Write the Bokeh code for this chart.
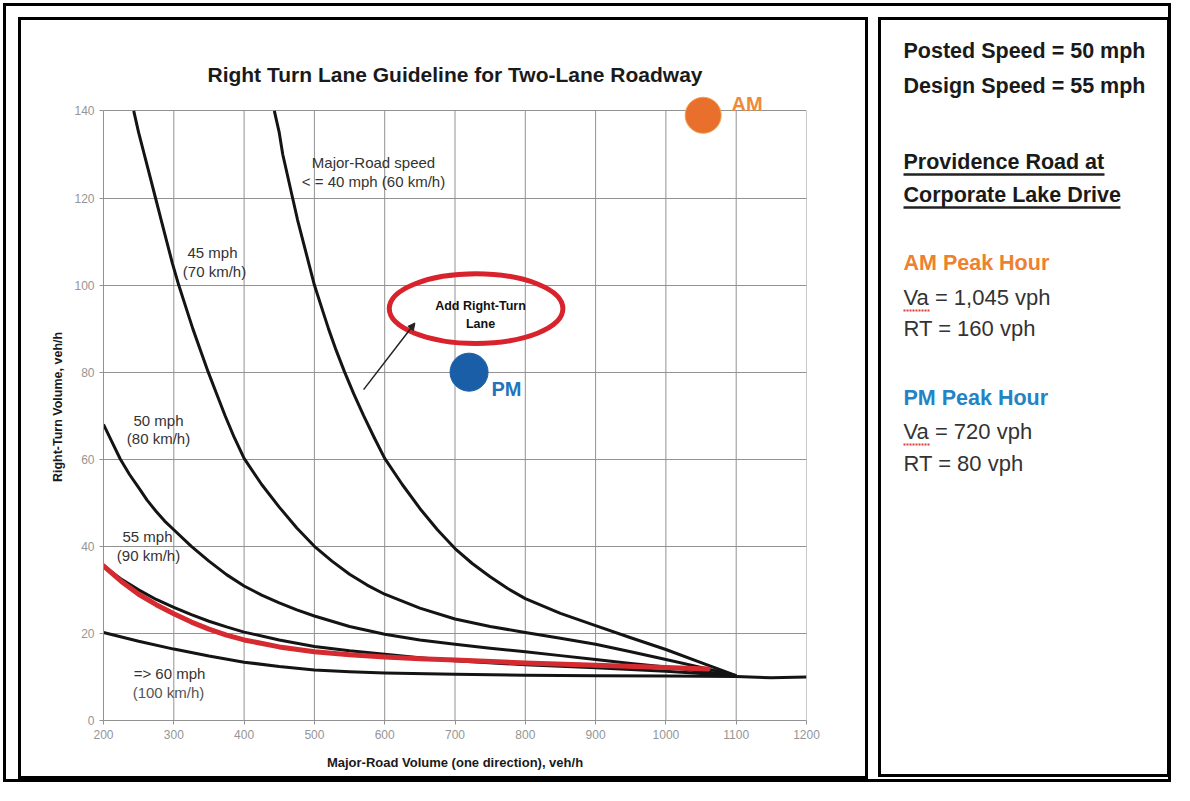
from bokeh.plotting import figure
from bokeh.layouts import row
from bokeh.models import Range1d, Label, Arrow, NormalHead, FixedTicker
from bokeh.embed import file_html
from bokeh.resources import INLINE

# ---------------- data ----------------
x_ticks = [200, 300, 400, 500, 600, 700, 800, 900, 1000, 1100, 1200]
y_ticks = [0, 20, 40, 60, 80, 100, 120, 140]

mph40_x = [443, 450, 455, 462, 469, 476, 484, 492, 500, 510, 520, 531, 543, 556, 570, 585, 600, 625, 650,
           675, 700, 725, 750, 775, 800, 850, 900, 950, 1000, 1050, 1100]
mph40_y = [140, 135, 130, 125, 120, 115, 110, 105, 100, 95, 90, 85, 80, 75, 70, 65, 60.2, 54.2, 48.7,
           43.8, 39.5, 36, 33, 30.3, 28, 24.6, 21.8, 19, 16.3, 13.3, 10.3]

mph45_x = [243, 250, 258, 266, 274, 282, 290, 298, 307, 317, 327, 338, 349, 361, 373, 386, 400, 425, 450,
           475, 500, 525, 550, 575, 600, 650, 700, 750, 800, 850, 900, 950, 1000, 1050, 1100]
mph45_y = [140, 135, 130, 125, 120, 115, 110, 105, 100, 95, 90, 85, 80, 75, 70, 65, 60.2, 54.2, 49,
           44.2, 40, 36.6, 33.6, 31.1, 29, 25.8, 23.3, 21.6, 20.2, 18.9, 17.5, 15.8, 14, 12.2, 10.3]

mph50_x = [200, 212, 224, 237, 250, 262, 275, 287, 300, 325, 350, 375, 400, 425, 450, 475, 500, 550, 600,
           650, 700, 750, 800, 850, 900, 950, 1000, 1050, 1100]
mph50_y = [68, 64, 60, 56.5, 53.5, 50.6, 48, 45.8, 43.8, 40, 36.6, 33.5, 30.9, 28.8, 27, 25.4, 24, 21.6, 19.8,
           18.5, 17.5, 16.6, 15.8, 14.9, 14, 13.1, 12.3, 11.3, 10.3]

mph55_x = [200, 225, 250, 275, 300, 325, 350, 375, 400, 450, 500, 550, 600, 650, 700, 800, 900, 1000, 1050, 1100]
mph55_y = [35.5, 32.5, 30, 27.8, 26, 24.3, 22.8, 21.5, 20.3, 18.5, 17, 16, 15.2, 14.4, 13.7, 12.8, 12.1, 11.3, 10.8, 10.3]

mph60_x = [200, 250, 300, 350, 400, 450, 500, 550, 600, 700, 800, 900, 1000, 1100, 1150, 1200]
mph60_y = [20.2, 18.2, 16.4, 14.8, 13.4, 12.4, 11.6, 11.2, 10.9, 10.6, 10.4, 10.3, 10.2, 10.1, 9.8, 10]

site_x = [200, 225, 250, 275, 300, 325, 350, 375, 400, 450, 500, 550, 600, 650, 700, 800, 900, 1000, 1060]
site_y = [35.5, 32, 29, 26.6, 24.5, 22.6, 21, 19.6, 18.5, 16.9, 15.8, 15.1, 14.6, 14.2, 13.9, 13.2, 12.7, 12.2, 11.8]

pm_x, pm_y = [720], [80]
am_x, am_y_shown = [1053], [139]

callout_x, callout_y, callout_w, callout_h = 730, 94.6, 247, 16
arrow_from = (570, 76)
arrow_to = (643, 91.3)

panel_bold = ["Posted Speed = 50 mph", "Design Speed = 55 mph", "Providence Road at", "Corporate Lake Drive"]
panel_am = ["AM Peak Hour", "Va = 1,045 vph", "RT = 160 vph"]
panel_pm = ["PM Peak Hour", "Va = 720 vph", "RT = 80 vph"]

GRID = "#929292"
FONT = "Liberation Sans"

# ---------------- chart figure (image coords: x 21..865, y 20..776) ----------------
A_L, A_T, A_W, A_H = 21, 20, 844, 756
FR_L, FR_R, FR_T, FR_B = 103, 806, 93, 720
p = figure(width=A_W, height=A_H, output_backend="svg", toolbar_location=None,
           x_range=Range1d(200, 1200), y_range=Range1d(0, 144),
           min_border_left=FR_L - A_L, min_border_right=A_L + A_W - FR_R,
           min_border_top=FR_T - A_T, min_border_bottom=A_T + A_H - FR_B)
if hasattr(p, "frame_align"):
    p.frame_align = False
p.outline_line_color = None
p.background_fill_color = "white"
p.border_fill_color = "white"
p.extra_x_ranges = {"px": Range1d(FR_L, FR_R)}
p.extra_y_ranges = {"py": Range1d(FR_B, FR_T)}

p.title.text = "Right Turn Lane Guideline for Two-Lane Roadway"
p.title.align = "center"
p.title.text_font = FONT
p.title.text_font_size = "21px"
p.title.text_font_style = "bold"
p.title.text_color = "#1a1a1a"
p.title.standoff = 16

for ax in (p.xaxis, p.yaxis):
    ax.axis_line_color = GRID
    ax.major_tick_line_color = GRID
    ax.minor_tick_line_color = None
    ax.major_tick_in = 0
    ax.major_tick_out = 4
    ax.major_label_text_font = FONT
    ax.major_label_text_font_size = "12px"
    ax.major_label_text_color = "#959595"
    ax.axis_label_text_font = FONT
    ax.axis_label_text_font_style = "bold"
    ax.axis_label_text_color = "#1a1a1a"
p.xaxis.axis_label_text_font_size = "13px"
p.yaxis.axis_label_text_font_size = "12.5px"

p.xaxis.ticker = FixedTicker(ticks=x_ticks)
p.yaxis.ticker = FixedTicker(ticks=y_ticks)
p.xaxis.bounds = (x_ticks[0], x_ticks[-1])
p.yaxis.bounds = (y_ticks[0], y_ticks[-1])
p.xaxis.axis_label = "Major-Road Volume (one direction), veh/h"
p.yaxis.axis_label = "Right-Turn Volume, veh/h"
p.xaxis.axis_label_standoff = 13
p.yaxis.axis_label_standoff = 6

p.xgrid.visible = False
p.ygrid.ticker = FixedTicker(ticks=y_ticks)
p.ygrid.grid_line_color = GRID
p.ygrid.grid_line_width = 1
p.segment(x0=x_ticks, y0=[y_ticks[0]] * len(x_ticks), x1=x_ticks, y1=[y_ticks[-1]] * len(x_ticks),
          line_color=GRID, line_width=1)

for xs, ys in [(mph40_x, mph40_y), (mph45_x, mph45_y), (mph50_x, mph50_y), (mph55_x, mph55_y), (mph60_x, mph60_y)]:
    p.line(xs, ys, line_color="#141414", line_width=3, line_join="round")
p.line(site_x, site_y, line_color="#d42a30", line_width=5, line_join="round", line_cap="round")

p.ellipse(x=[callout_x], y=[callout_y], width=[callout_w], height=[callout_h],
          fill_color=None, line_color="#d8232c", line_width=5)
p.add_layout(Arrow(end=NormalHead(size=7, fill_color="#222222", line_color="#222222"),
                   x_start=arrow_from[0], y_start=arrow_from[1], x_end=arrow_to[0], y_end=arrow_to[1],
                   line_color="#222222", line_width=1.5))

p.scatter(pm_x, pm_y, size=38, fill_color="#1b5ea8", line_color="#1b5ea8")
p.scatter(am_x, am_y_shown, size=36, fill_color="#e8702c", line_color="#f0a050")


def lab(fig, x, y, text, size, color="#222222", bold=False, align="center", ranges=True):
    kw = dict(x_range_name="px", y_range_name="py") if ranges else {}
    fig.add_layout(Label(x=x, y=y, text=text, text_font=FONT, text_font_size=f"{size}px",
                         text_font_style="bold" if bold else "normal",
                         text_color=color, text_align=align, text_baseline="middle", **kw))


lab(p, 373, 162, "Major-Road speed", 15, "#333333")
lab(p, 373, 181, "< = 40 mph (60 km/h)", 15, "#333333")
lab(p, 212, 252, "45 mph", 15, "#333333")
lab(p, 214, 271, "(70 km/h)", 15, "#333333")
lab(p, 158, 420, "50 mph", 15, "#333333")
lab(p, 158, 438, "(80 km/h)", 15, "#333333")
lab(p, 147, 536, "55 mph", 15, "#333333")
lab(p, 148, 555, "(90 km/h)", 15, "#333333")
lab(p, 169, 673, "=> 60 mph", 15, "#333333")
lab(p, 168, 692, "(100 km/h)", 15, "#555555")
lab(p, 480, 305, "Add Right-Turn", 12.5, "#111111", True)
lab(p, 480, 323, "Lane", 12.5, "#111111", True)
lab(p, 491, 388, "PM", 20, "#1f75bd", True, "left")
lab(p, 731, 103, "AM", 20, "#ee8a3a", True, "left")

p.margin = (A_T, 0, 785 - A_T - A_H, A_L)
p.styles = {"outline": "3px solid black"}

# ---------------- side panel figure (image coords: x 881..1167, y 20..774) ----------------
B_L, B_T, B_W, B_H = 881, 20, 286, 754
free = hasattr(p, "frame_align")
bt = 0 if free else FR_T - A_T
bb = 0 if free else A_T + A_H - FR_B
q = figure(width=B_W, height=B_H, output_backend="svg", toolbar_location=None,
           x_range=Range1d(B_L, B_L + B_W), y_range=Range1d(B_T + B_H - bb, B_T + bt),
           x_axis_type=None, y_axis_type=None,
           min_border_left=0, min_border_right=0, min_border_top=bt, min_border_bottom=bb)
if free:
    q.frame_align = False
q.outline_line_color = None
q.xgrid.visible = False
q.ygrid.visible = False
q.background_fill_color = "white"
q.border_fill_color = "white"

TX = 903
for t, yy in zip(panel_bold, [50, 85, 161, 194]):
    lab(q, TX, yy, t, 21.5, "#1a1a1a", True, "left", False)
lab(q, TX, 262, panel_am[0], 21.5, "#ec8130", True, "left", False)
lab(q, TX, 397, panel_pm[0], 21.5, "#2383c4", True, "left", False)
for t, yy in zip(panel_am[1:] + panel_pm[1:], [297, 328, 431, 463]):
    lab(q, TX, yy, t, 22, "#333333", False, "left", False)
q.segment(x0=[TX, TX], y0=[174, 207], x1=[1104, 1120], y1=[174, 207], line_color="#222222", line_width=2.5)
q.segment(x0=[TX, TX], y0=[310, 444], x1=[929, 929], y1=[310, 444], line_color="#e03a3a", line_width=2,
          line_dash="2 1")

q.margin = (B_T, 1174 - B_L - B_W, 785 - B_T - B_H, B_L - A_L - A_W)
q.styles = {"outline": "3px solid black"}

root = row(p, q, spacing=0)
root.styles = {"outline": "3px solid black", "outline-offset": "-6px"}

open("out.html", "w").write(file_html(root, INLINE))
